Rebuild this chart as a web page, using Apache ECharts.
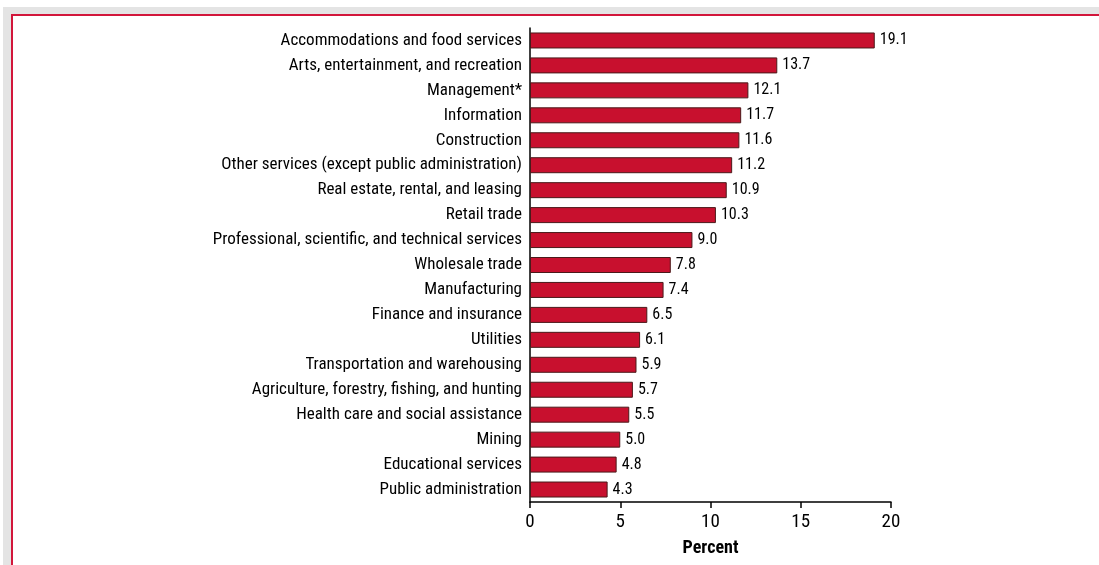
<!DOCTYPE html>
<html><head><meta charset="utf-8">
<script src="https://cdn.jsdelivr.net/npm/echarts@6/dist/echarts.min.js"></script>
<style>
html,body{margin:0;padding:0;width:1099px;height:565px;background:#fff;overflow:hidden}
#gray{position:absolute;left:3px;top:7px;right:0;bottom:0;background:#e4e4e4}
#inner{position:absolute;left:11px;top:14px;right:0;bottom:0;background:#fff;border-top:2px solid #d2163b;border-left:2px solid #d2163b}
#chart{position:absolute;left:0;top:0;width:1099px;height:565px}
</style></head>
<body>
<div id="gray"></div><div id="inner"></div>
<div id="chart"></div>
<script>
const categories = [
  "Accommodations and food services",
  "Arts, entertainment, and recreation",
  "Management*",
  "Information",
  "Construction",
  "Other services (except public administration)",
  "Real estate, rental, and leasing",
  "Retail trade",
  "Professional, scientific, and technical services",
  "Wholesale trade",
  "Manufacturing",
  "Finance and insurance",
  "Utilities",
  "Transportation and warehousing",
  "Agriculture, forestry, fishing, and hunting",
  "Health care and social assistance",
  "Mining",
  "Educational services",
  "Public administration"
];
const values = [19.1, 13.7, 12.1, 11.7, 11.6, 11.2, 10.9, 10.3, 9.0, 7.8, 7.4, 6.5, 6.1, 5.9, 5.7, 5.5, 5.0, 4.8, 4.3];
const xTicks = [0, 5, 10, 15, 20];
const axisTitle = "Percent";

const FONT = '"Liberation Sans Narrow", "Arial Narrow", "Roboto Condensed", sans-serif';
const chart = echarts.init(document.getElementById('chart'), null, {renderer: 'canvas'});
chart.setOption({
  backgroundColor: 'transparent',
  animation: false,
  grid: {left: 530, right: 208, top: 28, bottom: 63, containLabel: false, outerBoundsMode: 'none'},
  xAxis: {
    type: 'value', min: xTicks[0], max: xTicks[xTicks.length - 1], interval: 5,
    name: axisTitle, nameLocation: 'middle', nameGap: 37,
    nameTextStyle: {fontFamily: FONT, fontSize: 18, fontWeight: 'bold', color: '#000'},
    axisLine: {show: true, lineStyle: {color: '#000', width: 1.5}},
    axisTick: {show: true, inside: false, length: 6, lineStyle: {color: '#000', width: 1.5}},
    axisLabel: {fontFamily: FONT, fontSize: 19, color: '#000', margin: 11},
    splitLine: {show: false}
  },
  yAxis: {
    type: 'category', data: categories, inverse: true,
    axisLine: {show: true, lineStyle: {color: '#000', width: 1.5}},
    axisTick: {show: false},
    axisLabel: {fontFamily: FONT, fontSize: 17, color: '#000', margin: 8}
  },
  series: [{
    type: 'bar', data: values, barWidth: 16,
    itemStyle: {color: '#c8102e', borderColor: '#4a1a1a', borderWidth: 1},
    label: {show: true, position: 'right', distance: 5, fontFamily: FONT, fontSize: 16, color: '#000',
      formatter: p => p.value.toFixed(1)}
  }]
});
</script>
</body></html>
